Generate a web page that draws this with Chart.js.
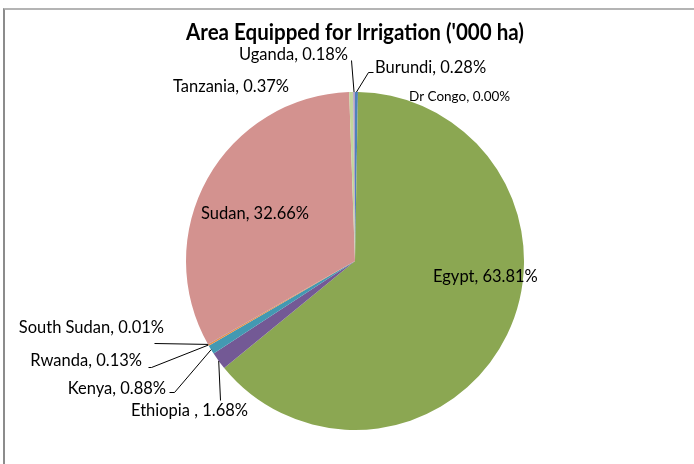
<!DOCTYPE html>
<html>
<head>
<meta charset="utf-8">
<script src="https://cdn.jsdelivr.net/npm/chart.js@4"></script>
<style>
  body { margin: 0; background: #fff; }
  #wrap { position: relative; width: 694px; height: 464px; overflow: hidden; }
  #frame { position: absolute; left: 3px; top: 8px; width: 800px; height: 600px;
           border-top: 2px solid #b4b4b4; border-left: 2px solid #8c8c8c; }
  canvas { position: absolute; left: 0; top: 0; }
</style>
</head>
<body>
<div id="wrap">
  <div id="frame"></div>
  <canvas id="piechart" width="694" height="464"></canvas>
</div>
<script>
// Data
const categories = ['Burundi', 'Dr Congo', 'Egypt', 'Ethiopia ', 'Kenya', 'Rwanda', 'South Sudan', 'Sudan', 'Tanzania', 'Uganda'];
const shares = [0.28, 0.00, 63.81, 1.68, 0.88, 0.13, 0.01, 32.66, 0.37, 0.18];
const colors = ['#4f81bd', '#c0504d', '#8ba752', '#735995', '#4399b2', '#f38f3f', '#2c4d75', '#d3928f', '#c3d69b', '#b3a2c7'];

// label placement relative to pie centre (px), leader points end at the slice edge
const labelLayout = [
  { dx: 20, dy: -193, align: 'left', line: [[18, -189], [13, -189]] },
  { dx: 54, dy: -164, align: 'left', size: 13.5 },
  { dx: 78, dy: 16, align: 'left' },
  { dx: -224, dy: 150, align: 'left', line: [[-135, 139]] },
  { dx: -189, dy: 128, align: 'right', line: [[-186, 131], [-181, 131]] },
  { dx: -213, dy: 100, align: 'right', line: [[-207, 106], [-204, 106]] },
  { dx: -191, dy: 67, align: 'right', line: [[-201, 82]] },
  { dx: -154, dy: -47, align: 'left' },
  { dx: -66, dy: -174, align: 'right' },
  { dx: -7, dy: -206, align: 'right', line: [[-4, -201]] }
];

const FONT = 'Lato, "Open Sans", sans-serif';

const sliceLabels = {
  id: 'sliceLabels',
  afterDatasetsDraw(chart) {
    const ctx = chart.ctx;
    const arcs = chart.getDatasetMeta(0).data;
    const total = shares.reduce((a, b) => a + b, 0);
    ctx.save();
    arcs.forEach((arc, i) => {
      const lay = labelLayout[i];
      const cx = arc.x, cy = arc.y;
      const mid = (arc.startAngle + arc.endAngle) / 2;
      const ex = cx + Math.cos(mid) * arc.outerRadius;
      const ey = cy + Math.sin(mid) * arc.outerRadius;
      if (lay.line) {
        ctx.strokeStyle = '#000';
        ctx.lineWidth = 1;
        ctx.beginPath();
        lay.line.forEach((p, k) => {
          const px = cx + p[0] + 0.5, py = cy + p[1] + 0.5;
          if (k === 0) ctx.moveTo(px, py); else ctx.lineTo(px, py);
        });
        ctx.lineTo(ex, ey);
        ctx.stroke();
      }
      const pct = (shares[i] / total * 100).toFixed(2) + '%';
      ctx.font = (lay.size || 16.5) + 'px ' + FONT;
      ctx.fillStyle = '#000';
      ctx.textAlign = lay.align;
      ctx.textBaseline = 'middle';
      ctx.fillText(categories[i] + ', ' + pct, cx + lay.dx, cy + lay.dy);
    });
    ctx.restore();
  }
};

new Chart('piechart', {
  type: 'pie',
  data: {
    labels: categories,
    datasets: [{
      data: shares,
      backgroundColor: colors,
      borderWidth: 0
    }]
  },
  options: {
    responsive: false,
    devicePixelRatio: 1,
    animation: false,
    layout: { padding: { left: 186, right: 170, top: 0, bottom: 33 } },
    plugins: {
      legend: { display: false },
      tooltip: { enabled: false },
      title: {
        display: true,
        text: "Area Equipped for Irrigation ('000 ha)",
        color: '#000',
        font: { family: FONT, size: 22.5, weight: 'bold', lineHeight: 1.2 },
        padding: { top: 19, bottom: 45 }
      }
    }
  },
  plugins: [sliceLabels]
});
</script>
</body>
</html>
